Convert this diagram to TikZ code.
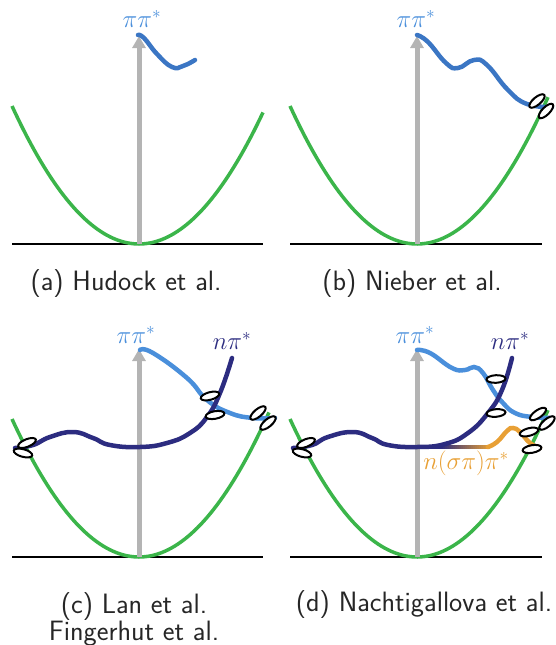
\documentclass[tikz,border=0pt]{standalone}
\usetikzlibrary{arrows.meta}
\definecolor{pgreen}{HTML}{3BB54A}
\definecolor{pblue}{HTML}{3B76C4}
\definecolor{lblue}{HTML}{4A8FDB}
\definecolor{pnavy}{HTML}{2C2C80}
\definecolor{porange}{HTML}{E8A035}
\definecolor{pgray}{HTML}{B4B4B4}
\tikzset{
  base/.style={line width=2.5pt,black},
  gs/.style={line width=3.5pt,pgreen},
  exc/.style={line width=5pt,pgray,-{Triangle[length=12pt,width=13pt]}},
  pipi/.style={line width=4.5pt,pblue,line cap=round},
  pipil/.style={line width=4.5pt,lblue,line cap=round},
  npi/.style={line width=4.5pt,pnavy,line cap=round},
  ci/.style={line width=2pt,black,fill=white},
  lab/.style={font=\fontsize{26}{30}\selectfont},
  captxt/.style={font=\sffamily\fontsize{28}{27}\selectfont,text=black!85,align=center},
}
\begin{document}
\begin{tikzpicture}[x=1pt,y=-1pt]
\useasboundingbox (0,0) rectangle (555,645);
% ===== panel a =====
\draw[base] (12,244) -- (263,244);
\draw[gs] plot[domain=12:263,samples=80] (\x,{244-138*((\x-139)/127)^2});
\coordinate (a0) at (139,244); \coordinate (a1) at (139,36);
\draw[exc] (a0) -- (a1);
\draw[pipi] plot[smooth,tension=0.8] coordinates {(138,35) (144,38) (157,54) (172,67) (183,66) (195,60)};
\node[lab,text=lblue] (la) at (142,19) {$\pi\pi^*$};
\node[captxt] (ca) at (126,284) {(a) Hudock et al.};
% ===== panel b =====
\draw[base] (290,244) -- (542,244);
\draw[gs] plot[domain=290:548,samples=80] (\x,{244-138*((\x-417)/127)^2});
\coordinate (b0) at (417,244); \coordinate (b1) at (417,36);
\draw[exc] (b0) -- (b1);
\draw[pipi] plot[smooth,tension=0.8] coordinates {(417,35) (428,42) (446,63) (458,68) (474,60) (487,65) (508,90) (527,104) (552,107)};
\node[lab,text=lblue] (lb) at (416,19) {$\pi\pi^*$};
\draw[ci,rotate around={40:(537,101)}] (537,101) ellipse [x radius=9.5pt,y radius=3.8pt];
\draw[ci,rotate around={45:(546,111)}] (546,111) ellipse [x radius=9.5pt,y radius=3.8pt];
\node[captxt] (cb) at (412,284) {(b) Nieber et al.};
% ===== panel c =====
\draw[base] (12,557) -- (263,557);
\draw[gs] plot[domain=12:269,samples=80] (\x,{557-138*((\x-139)/127)^2});
\coordinate (c0) at (139,557); \coordinate (c1) at (139,349);
\draw[exc] (c0) -- (c1);
\draw[pipil] plot[smooth,tension=0.8] coordinates {(140,350) (153,353) (187,378) (207,400) (230,413) (253,418) (275,418)};
\draw[npi] plot[smooth,tension=0.8] coordinates {(15,448) (33,445) (50,437) (73,432) (93,438) (110,445) (140,447) (167,443) (190,433) (207,417) (220,393) (232,358)};
\node[lab,text=lblue] (lc) at (136,335) {$\pi\pi^*$};
\node[lab,text=pnavy] (lc2) at (232,341) {$n\pi^*$};
\draw[ci,rotate around={22:(27,443)}] (27,443) ellipse [x radius=9.5pt,y radius=3.8pt];
\draw[ci,rotate around={-15:(23,453)}] (23,453) ellipse [x radius=9.5pt,y radius=3.8pt];
\draw[ci,rotate around={15:(210,396)}] (210,396) ellipse [x radius=9.5pt,y radius=3.8pt];
\draw[ci,rotate around={10:(215,415)}] (215,415) ellipse [x radius=9.5pt,y radius=3.8pt];
\draw[ci,rotate around={40:(258,413)}] (258,413) ellipse [x radius=9.5pt,y radius=3.8pt];
\draw[ci,rotate around={40:(268,423)}] (268,423) ellipse [x radius=9.5pt,y radius=3.8pt];
\node[captxt] (cc) at (134,619) {(c) Lan et al.\\Fingerhut et al.};
% ===== panel d =====
\draw[base] (290,557) -- (542,557);
\draw[gs] plot[domain=290:548,samples=80] (\x,{557-138*((\x-417)/127)^2});
\coordinate (d0) at (417,557); \coordinate (d1) at (417,349);
\draw[exc] (d0) -- (d1);
\draw[pipil] plot[smooth,tension=0.8] coordinates {(417,350) (430,353) (452,368) (465,370) (474,367) (483,373) (493,390) (503,403) (515,413) (532,417) (552,418)};
% gradient part n(sigma pi)pi*
\foreach \i in {0,...,35} {
  \pgfmathsetmacro{\xa}{417+2*\i}
  \pgfmathsetmacro{\xb}{419+2*\i}
  \pgfmathsetmacro{\pc}{max(0,min(100,(\xa-440)*2))}
  \draw[line width=4.5pt,porange!\pc!pnavy] (\xa,447) -- (\xb,447);
}
\draw[line width=4.5pt,porange,line cap=round] plot[smooth,tension=0.8] coordinates {(488,447) (497,442) (507,431) (513,428) (520,432) (530,443) (540,448)};
\draw[npi] plot[smooth,tension=0.8] coordinates {(293,448) (312,445) (328,437) (353,432) (372,438) (388,445) (417,447) (445,444) (468,433) (488,413) (502,390) (512,358)};
\node[lab,text=lblue] (ld) at (415,335) {$\pi\pi^*$};
\node[lab,text=pnavy] (ld2) at (510,341) {$n\pi^*$};
\node[lab,text=porange] (ld3) at (466,463) {$n(\sigma\pi)\pi^*$};
\draw[ci,rotate around={22:(306,443)}] (306,443) ellipse [x radius=9.5pt,y radius=3.8pt];
\draw[ci,rotate around={-15:(302,453)}] (302,453) ellipse [x radius=9.5pt,y radius=3.8pt];
\draw[ci,rotate around={3:(496,379)}] (496,379) ellipse [x radius=9.5pt,y radius=3.8pt];
\draw[ci,rotate around={5:(496,413)}] (496,413) ellipse [x radius=9.5pt,y radius=3.8pt];
\draw[ci,rotate around={35:(538,414)}] (538,414) ellipse [x radius=9.5pt,y radius=3.8pt];
\draw[ci,rotate around={40:(547,423)}] (547,423) ellipse [x radius=9.5pt,y radius=3.8pt];
\draw[ci,rotate around={15:(529,432)}] (529,432) ellipse [x radius=9.5pt,y radius=3.8pt];
\draw[ci,rotate around={10:(532,449)}] (532,449) ellipse [x radius=9.5pt,y radius=3.8pt];
\node[captxt] (cd) at (424,605) {(d) Nachtigallova et al.};
\end{tikzpicture}
\end{document}
